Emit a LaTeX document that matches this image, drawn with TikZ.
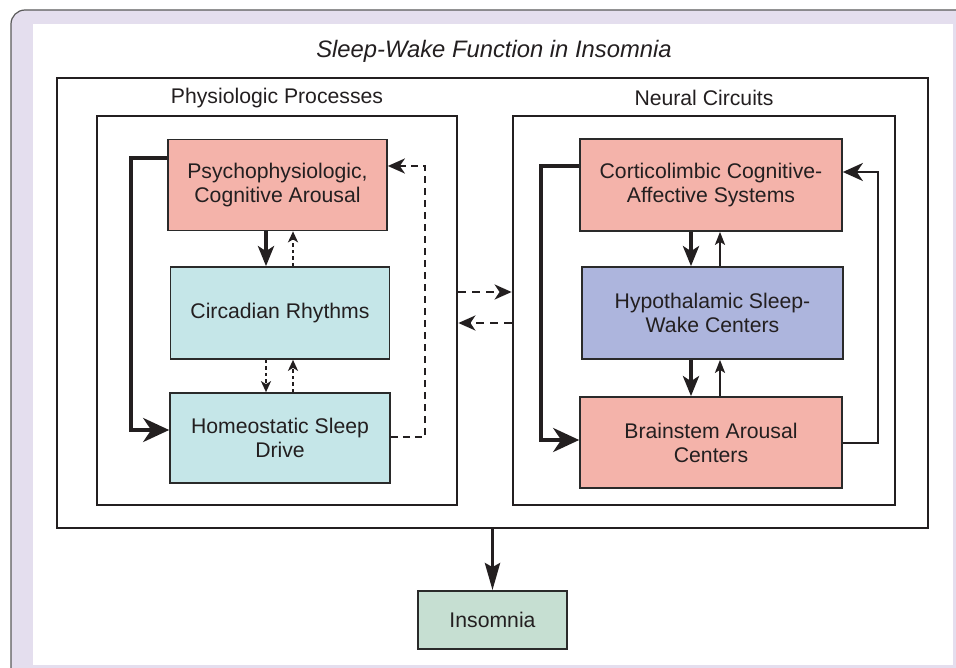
\documentclass[tikz,border=0pt]{standalone}
\usepackage{fontspec}
\setmainfont{Liberation Sans}
\usetikzlibrary{arrows.meta}
\definecolor{lavbg}{HTML}{E4DEEE}
\definecolor{framegray}{HTML}{5A5A5A}
\definecolor{txt}{HTML}{231F20}
\definecolor{salmon}{HTML}{F4B3AA}
\definecolor{cyanbox}{HTML}{C5E6E8}
\definecolor{bluebox}{HTML}{ADB5DD}
\definecolor{greenbox}{HTML}{C6DFD2}
\definecolor{boxline}{HTML}{2A2A2A}
\newcommand{\boxfont}{\fontsize{21.2}{24}\selectfont}
\tikzset{
  box/.style={draw=boxline, line width=1.7pt, align=center, font=\boxfont, text=txt, inner sep=0pt},
  groupbox/.style={draw=txt, line width=2.8pt, inner sep=0pt},
  lbl/.style={font=\boxfont, text=txt, inner sep=0pt},
  thickarr/.style={draw=txt, line width=3.8pt, -{Stealth[length=20pt,width=16pt,inset=5pt]}},
  bigarr/.style={draw=txt, line width=3.8pt, -{Stealth[length=26pt,width=24pt,inset=8pt]}},
  thinarr/.style={draw=txt, line width=2.2pt, -{Stealth[length=13pt,width=10pt,inset=3pt]}},
  loopthin/.style={draw=txt, line width=2.4pt, -{Stealth[length=20pt,width=18pt,inset=6pt]}},
  dotarr/.style={draw=txt, line width=2.6pt, dash pattern=on 3.5pt off 3pt, -{Stealth[length=11pt,width=10pt,inset=3pt]}},
  dasharr/.style={draw=txt, line width=2.4pt, dash pattern=on 8pt off 6pt, -{Stealth[length=17pt,width=15pt,inset=5pt]}},
  looparr/.style={draw=txt, line width=2.4pt, dash pattern=on 7pt off 5pt, -{Stealth[length=17pt,width=15pt,inset=5pt]}},
  insarr/.style={draw=txt, line width=3.8pt, -{Stealth[length=27pt,width=15pt,inset=4pt]}}
}
\begin{document}
\begin{tikzpicture}[x=1pt,y=-1pt]
\useasboundingbox (0,0) rectangle (956,668);
\clip (0,0) rectangle (956,668);
% frame
\draw[fill=lavbg, draw=framegray, line width=1.2pt, rounded corners=14pt] (11,10) rectangle (990,700);
\fill[white] (33,24) rectangle (953,665);
% title
\node[lbl, font=\fontsize{23.8}{27}\selectfont\itshape] (title) at (494,51) {Sleep-Wake Function in Insomnia};
% containers
\node[groupbox, minimum width=871, minimum height=450] (main) at (492.5,303) {};
\node[groupbox, minimum width=360, minimum height=389] (phys) at (277,310.5) {};
\node[groupbox, minimum width=382, minimum height=389] (neur) at (704,310.5) {};
\node[lbl] (physlbl) at (277,98) {Physiologic Processes};
\node[lbl] (neurlbl) at (704,98) {Neural Circuits};
% left boxes
\node[box, fill=salmon, minimum width=219, minimum height=91] (psych) at (277.5,185) {Psychophysiologic,\\Cognitive Arousal};
\node[box, fill=cyanbox, minimum width=219, minimum height=92] (circ) at (280,313) {Circadian Rhythms};
\node[box, fill=cyanbox, minimum width=220, minimum height=90] (homeo) at (280,438) {Homeostatic Sleep\\Drive};
% right boxes
\node[box, fill=salmon, minimum width=262, minimum height=92] (cort) at (711,185) {Corticolimbic Cognitive-\\Affective Systems};
\node[box, fill=bluebox, minimum width=261, minimum height=92] (hypo) at (712.5,313) {Hypothalamic Sleep-\\Wake Centers};
\node[box, fill=salmon, minimum width=262, minimum height=91] (brain) at (711,442.5) {Brainstem Arousal\\Centers};
% insomnia
\node[box, fill=greenbox, minimum width=149, minimum height=58] (ins) at (492.5,620) {Insomnia};
% helper coordinates
\coordinate (xa) at (266,0);
\coordinate (xb) at (293,0);
\coordinate (xc) at (691,0);
\coordinate (xd) at (720,0);
\coordinate (m1) at (0,292);
\coordinate (m2) at (0,323);
% left connectors
\draw[thickarr] (psych.south -| xa) -- (circ.north -| xa);
\draw[dotarr] (circ.north -| xb) -- (psych.south -| xb);
\draw[dotarr] (circ.south -| xa) -- (homeo.north -| xa);
\draw[dotarr] (homeo.north -| xb) -- (circ.south -| xb);
\draw[bigarr] ([yshift=27pt]psych.west) -- ++(-36,0) |- ([yshift=8pt]homeo.west);
\draw[looparr] ([yshift=1pt]homeo.east) -- ++(34,0) |- ([yshift=19pt]psych.east);
% right connectors
\draw[thickarr] (cort.south -| xc) -- (hypo.north -| xc);
\draw[thinarr] (hypo.north -| xd) -- (cort.south -| xd);
\draw[thickarr] (hypo.south -| xc) -- (brain.north -| xc);
\draw[thinarr] (brain.north -| xd) -- (hypo.south -| xd);
\draw[bigarr] ([yshift=19pt]cort.west) -- ++(-38,0) |- ([yshift=2.5pt]brain.west);
\draw[loopthin] ([yshift=-0.5pt]brain.east) -- ++(35,0) |- ([yshift=13pt]cort.east);
% middle connectors
\draw[dasharr] (phys.east |- m1) -- (neur.west |- m1);
\draw[dasharr] (neur.west |- m2) -- (phys.east |- m2);
% to insomnia
\draw[insarr] (main.south) -- (ins.north);
\end{tikzpicture}
\end{document}
